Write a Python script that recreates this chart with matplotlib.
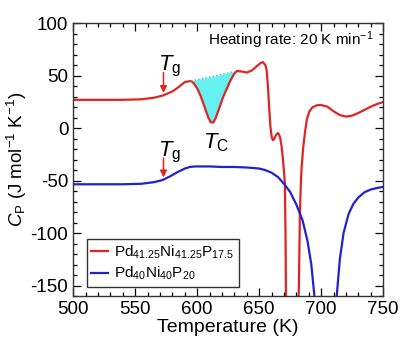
import matplotlib
matplotlib.use("Agg")
import matplotlib.pyplot as plt
from matplotlib.ticker import MultipleLocator
import numpy as np

plt.rcParams["font.family"] = ["Liberation Sans", "DejaVu Sans"]
plt.rcParams["mathtext.fontset"] = "custom"
plt.rcParams["mathtext.rm"] = "Liberation Sans"
plt.rcParams["mathtext.it"] = "Liberation Sans:italic"
plt.rcParams["axes.unicode_minus"] = False

# DSC traces, heat capacity vs temperature
temp_red = [500, 520, 540, 555, 565, 572, 580, 586, 590, 595, 597, 600, 603,
            606, 609, 611, 613, 615, 618, 621, 624, 627, 630, 632, 636, 640,
            644, 648, 651, 653, 655, 656, 657, 658, 659, 660, 661, 662, 663.5,
            665, 666, 667, 668, 669, 670, 670.7, 671.2, 671.6, 673, 680, 681.5,
            682, 682.8, 683.5, 684.2, 685.5, 687, 688.5, 690.5, 693, 697, 700,
            705, 710, 715, 720, 725, 730, 735, 740, 745, 750]
cp_red = [27, 27, 27, 27.5, 29, 31, 35, 40, 44, 45, 43, 38, 30,
          20, 10, 5.5, 5.5, 10, 20, 30, 38, 46, 52, 54.5, 54, 53,
          55, 59, 62, 63, 60, 55, 40, 20, 2, -8, -11.5, -10.5, -6.5,
          -4.7, -6, -10, -17, -28, -42, -53, -100, -170, -250, -250, -170,
          -150, -81, -55, -37, -18, -3, 9, 16, 20, 22, 22,
          20.5, 16, 12.5, 11, 12, 14.5, 17.5, 20.5, 23, 25]

temp_blue = [500, 520, 540, 555, 565, 572, 578, 584, 590, 594, 598, 610, 620,
             630, 640, 650, 655, 660, 665, 670, 675, 680, 685, 689, 692, 694.5,
             698, 705, 710, 712.5, 715, 718, 722, 726, 730, 735, 740, 745, 750]
cp_blue = [-53.5, -53.5, -53.5, -53, -51.5, -49.5, -46, -42, -38.5, -37, -36.5,
           -36.5, -37, -37, -37.5, -38.5, -40, -42.5, -46.5, -53, -61, -73, -88,
           -108, -130, -160, -220, -250, -200, -160, -125, -100, -82, -72, -66,
           -61, -58.5, -57, -56]

# crystallization peak baseline endpoints
peak_start, peak_end = 595, 632

label_red = r"Pd$_{41.25}$Ni$_{41.25}$P$_{17.5}$"
label_blue = r"Pd$_{40}$Ni$_{40}$P$_{20}$"

fig = plt.figure(figsize=(4.09, 3.42), dpi=100)
ax = fig.add_axes([0.179, 0.1345, 0.758, 0.7975])

ax.plot(temp_red, cp_red, color="#e02424", lw=1.6, label=label_red)
ax.plot(temp_blue, cp_blue, color="#2222cc", lw=1.6, label=label_blue)

# shaded exotherm under a straight dotted baseline
t = np.array(temp_red)
c = np.array(cp_red)
mask = (t >= peak_start) & (t <= peak_end)
c0 = c[t == peak_start][0]
c1 = c[t == peak_end][0]
base = c0 + (c1 - c0) * (t[mask] - peak_start) / (peak_end - peak_start)
ax.fill_between(t[mask], c[mask], base, color="#66f0f0", lw=0, zorder=1)
ax.plot([peak_start, peak_end], [c0, c1], ls=":", color="#4fb8c8", lw=1)

# Tg markers: text baseline, arrow start, arrow end
for ytxt, y0, y1 in [(55.5, 53, 33.5), (-26.5, -28.5, -47)]:
    ax.text(568.3, ytxt, r"$T_{\mathrm{g}}$", fontsize=16, ha="left",
            va="baseline")
    ax.annotate("", xy=(572.8, y1), xytext=(572.8, y0),
                arrowprops=dict(arrowstyle="-|>", color="#e02424", lw=1.1,
                                mutation_scale=10, shrinkA=0, shrinkB=0))
ax.text(604.6, -19, r"$T_{\mathrm{C}}$", fontsize=16, ha="left", va="baseline")

ax.text(742, 79, r"Heating rate: 20 K min$^{-1}$", fontsize=11, ha="right")

ax.set_xlim(500, 750)
ax.set_ylim(-160, 100)
ax.xaxis.set_major_locator(MultipleLocator(50))
ax.xaxis.set_minor_locator(MultipleLocator(10))
ax.yaxis.set_major_locator(MultipleLocator(50))
ax.yaxis.set_minor_locator(MultipleLocator(10))
ax.tick_params(which="both", direction="in", top=True, right=True,
               labelsize=13.5, width=0.9)
ax.tick_params(which="major", length=6)
ax.tick_params(which="minor", length=3)
for s in ax.spines.values():
    s.set_linewidth(1)
    s.set_color("#333333")

ax.set_xlabel("Temperature (K)", fontsize=14, labelpad=1)
ax.set_ylabel(r"$C_{\mathrm{P}}$ (J mol$^{-1}$ K$^{-1}$)", fontsize=13.5,
              labelpad=1)

leg = ax.legend(loc="lower left", bbox_to_anchor=(0.044, 0.033), fontsize=11,
                handlelength=1.1, handletextpad=0.4, borderpad=0.3,
                labelspacing=0.25, fancybox=False, framealpha=1,
                borderaxespad=0)
leg.get_frame().set_edgecolor("#333333")
leg.get_frame().set_linewidth(1)

fig.savefig("out.png", dpi=100)
